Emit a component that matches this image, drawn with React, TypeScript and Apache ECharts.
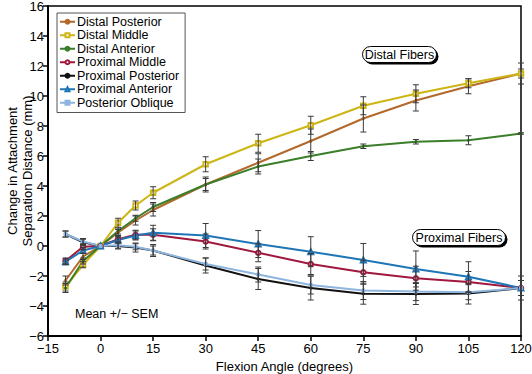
import React, { useEffect, useRef } from "react";
import * as echarts from "echarts";

const angles = [-10, -5, 0, 5, 10, 15, 30, 45, 60, 75, 90, 105, 120];

const distalPosterior = [-2.3, -0.7, 0, 0.9, 1.7, 2.4, 4.1, 5.55, 7.0, 8.5, 9.7, 10.65, 11.5];
const distalMiddle = [-2.7, -1.25, 0, 1.55, 2.7, 3.55, 5.45, 6.85, 8.05, 9.35, 10.15, 10.85, 11.5];
const distalAnterior = [-2.8, -1.0, 0, 1.0, 1.85, 2.6, 4.1, 5.3, 6.0, 6.65, 6.95, 7.05, 7.5];
const proximalMiddle = [-1.0, -0.05, 0, 0.45, 0.75, 0.75, 0.3, -0.45, -1.2, -1.75, -2.15, -2.4, -2.8];
const proximalPosterior = [0.8, 0.25, 0, 0.0, -0.1, -0.3, -1.3, -2.2, -2.8, -3.18, -3.2, -3.17, -2.8];
const proximalAnterior = [-1.05, -0.3, 0, 0.4, 0.7, 0.88, 0.7, 0.13, -0.38, -0.93, -1.53, -2.05, -2.8];
const posteriorOblique = [0.8, 0.3, 0, 0.05, -0.05, -0.3, -1.2, -1.9, -2.6, -2.97, -3.04, -3.08, -2.8];

const semDistalPosterior = [0.3, 0.2, 0, 0.2, 0.3, 0.4, 0.5, 0.6, 0.8, 0.9, 0.7, 0.5, 0.7];
const semDistalMiddle = [0.3, 0.2, 0, 0.3, 0.3, 0.4, 0.5, 0.6, 0.6, 0.6, 0.6, 0.3, 0.3];
const semDistalAnterior = [0.3, 0.2, 0, 0.2, 0.2, 0.3, 0.4, 0.5, 0.3, 0.15, 0.15, 0.3, 0.05];
const semProximalMiddle = [0.2, 0.2, 0, 0.2, 0.3, 0.4, 0.5, 0.6, 0.7, 0.8, 0.8, 0.7, 0.5];
const semProximalPosterior = [0.2, 0.2, 0, 0.2, 0.3, 0.4, 0.5, 0.7, 0.8, 0.7, 0.7, 0.7, 0.5];
const semProximalAnterior = [0.2, 0.2, 0, 0.2, 0.3, 0.5, 0.8, 0.9, 1.0, 1.1, 1.2, 1.0, 0.8];
const semPosteriorOblique = [0.2, 0.2, 0, 0.2, 0.2, 0.3, 0.4, 0.5, 0.6, 0.6, 0.6, 0.5, 0.5];

const seriesNames = [
  "Distal Posterior",
  "Distal Middle",
  "Distal Anterior",
  "Proximal Middle",
  "Proximal Posterior",
  "Proximal Anterior",
  "Posterior Oblique",
];

const FONT = "'Liberation Sans', Arial, Helvetica, sans-serif";

export default function App() {
  const ref = useRef<HTMLDivElement>(null);

  useEffect(() => {
    document.body.style.margin = "0";
    if (!ref.current) return;
    const chart = echarts.init(ref.current, null, { renderer: "svg" });

    const values = [
      distalPosterior,
      distalMiddle,
      distalAnterior,
      proximalMiddle,
      proximalPosterior,
      proximalAnterior,
      posteriorOblique,
    ];
    const sems = [
      semDistalPosterior,
      semDistalMiddle,
      semDistalAnterior,
      semProximalMiddle,
      semProximalPosterior,
      semProximalAnterior,
      semPosteriorOblique,
    ];
    const colors = ["#b2692b", "#cdb514", "#3b7e2a", "#a1183f", "#111111", "#1f76b6", "#8db5df"];
    const symbols = ["circle", "emptyRect", "circle", "emptyCircle", "circle", "emptyTriangle", "rect"];
    const sizes = [2.5, 4.5, 2.5, 4.5, 2.5, 5, 3];

    const lineSeries = seriesNames.map((name, i) => ({
      name,
      type: "line",
      data: angles.map((a, j) => [a, values[i][j]]),
      symbol: symbols[i],
      symbolSize: sizes[i],
      showAllSymbol: true,
      lineStyle: { color: colors[i], width: 2 },
      itemStyle: { color: colors[i], borderColor: colors[i], borderWidth: 1 },
      z: 2,
    }));

    const errSeries = seriesNames.map((name, i) => ({
      name: "err" + i,
      type: "custom",
      data: angles.map((a, j) => [a, values[i][j], sems[i][j]]),
      encode: { x: 0, y: 1 },
      z: 3,
      silent: true,
      renderItem: (params: any, api: any) => {
        const x = api.value(0);
        const y = api.value(1);
        const e = api.value(2);
        if (!e) return null;
        const top = api.coord([x, y + e]);
        const bot = api.coord([x, y - e]);
        const st = { stroke: "#3a3a3a", lineWidth: 1 };
        return {
          type: "group",
          children: [
            { type: "line", shape: { x1: top[0], y1: top[1], x2: bot[0], y2: bot[1] }, style: st },
            { type: "line", shape: { x1: top[0] - 3, y1: top[1], x2: top[0] + 3, y2: top[1] }, style: st },
            { type: "line", shape: { x1: bot[0] - 3, y1: bot[1], x2: bot[0] + 3, y2: bot[1] }, style: st },
          ],
        };
      },
    }));

    const pill = (x: number, y: number, w: number, h: number, label: string) => ({
      type: "group",
      left: x,
      top: y,
      z: 10,
      children: [
        { type: "rect", shape: { x: 2, y: 2, width: w, height: h, r: h / 2 }, style: { fill: "#000" } },
        {
          type: "rect",
          shape: { x: 0, y: 0, width: w, height: h, r: h / 2 },
          style: { fill: "#fff", stroke: "#000", lineWidth: 1 },
        },
        {
          type: "text",
          x: w / 2,
          y: h / 2,
          style: {
            text: label,
            fill: "#000",
            font: "12.5px " + FONT,
            align: "center",
            verticalAlign: "middle",
          },
        },
      ],
    });

    const fmt = (v: number) => String(v).replace("-", "\u2212");

    chart.setOption({
      animation: false,
      backgroundColor: "#fff",
      textStyle: { fontFamily: FONT },
      grid: {
        left: 48,
        top: 6,
        width: 473,
        height: 330,
        containLabel: false,
        outerBoundsMode: "none",
        show: true,
        borderColor: "#000",
        borderWidth: 1.5,
        backgroundColor: "transparent",
      },
      legend: {
        data: seriesNames,
        orient: "vertical",
        left: 57,
        top: 13,
        itemWidth: 15,
        itemHeight: 5,
        itemGap: 0,
        padding: [2, 6, 3, 2],
        borderColor: "#555",
        borderWidth: 1,
        backgroundColor: "#fff",
        selectedMode: false,
        textStyle: { color: "#000", fontSize: 12.5, fontFamily: FONT, lineHeight: 13.5, padding: [0, 0, 0, -3] },
      },
      xAxis: {
        type: "value",
        min: -15,
        max: 120,
        interval: 15,
        name: "Flexion Angle (degrees)",
        nameLocation: "middle",
        nameGap: 22,
        nameTextStyle: { color: "#000", fontSize: 13, fontFamily: FONT },
        axisLine: { show: true, onZero: false, lineStyle: { color: "#000", width: 2 } },
        axisTick: { show: true, length: 5, lineStyle: { color: "#000", width: 1.5 } },
        axisLabel: { color: "#000", fontSize: 13, fontFamily: FONT, margin: 6, lineHeight: 13, formatter: fmt },
        splitLine: { show: false },
      },
      yAxis: {
        type: "value",
        min: -6,
        max: 16,
        interval: 2,
        axisLine: { show: true, onZero: false, lineStyle: { color: "#000", width: 2 } },
        axisTick: { show: true, length: 5, lineStyle: { color: "#000", width: 1.5 } },
        axisLabel: { color: "#000", fontSize: 13, fontFamily: FONT, margin: 4, lineHeight: 12, formatter: fmt },
        splitLine: { show: false },
      },
      graphic: [
        {
          type: "text",
          x: 19.5,
          y: 171,
          rotation: Math.PI / 2,
          z: 10,
          style: {
            text: "Change in Attachment\nSeparation Distance (mm)",
            fill: "#000",
            font: "13px " + FONT,
            lineHeight: 15,
            align: "center",
            verticalAlign: "middle",
          },
        },
        pill(362, 46, 74, 16, "Distal Fibers"),
        pill(412, 229, 93, 16, "Proximal Fibers"),
        {
          type: "text",
          left: 75,
          top: 307,
          z: 10,
          style: { text: "Mean +/\u2212 SEM", fill: "#000", font: "12.5px " + FONT },
        },
      ],
      series: [...lineSeries, ...errSeries],
    });

    return () => chart.dispose();
  }, []);

  return <div ref={ref} style={{ width: 532, height: 374 }} />;
}
